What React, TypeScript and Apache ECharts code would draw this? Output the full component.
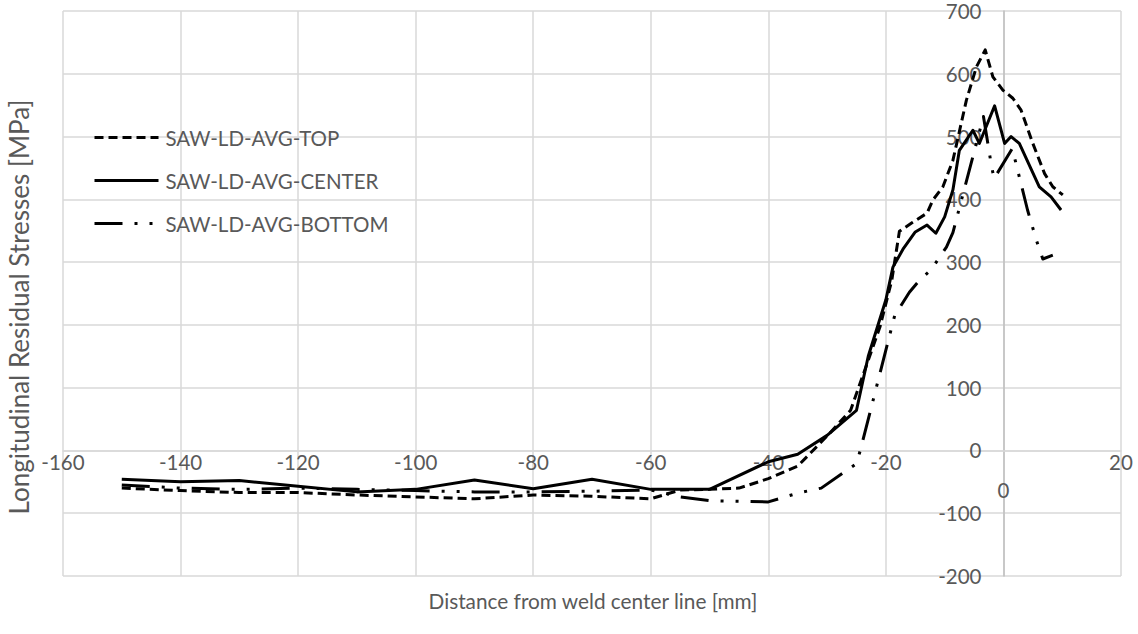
import React, { useEffect, useRef } from "react";
import * as echarts from "echarts";

// Longitudinal residual stress profiles across the weld (distance in mm, stress in MPa)
const seriesNames = ["SAW-LD-AVG-TOP", "SAW-LD-AVG-CENTER", "SAW-LD-AVG-BOTTOM"];

const topProfile: [number, number][] = [
  [-150, -60], [-140, -64], [-130, -67], [-120, -67], [-110, -71], [-100, -74],
  [-90, -77], [-80, -71], [-70, -73], [-60, -77], [-55, -63], [-50, -62],
  [-45, -60], [-40, -45], [-35, -25], [-30, 23], [-26, 64], [-21, 197],
  [-19, 271], [-17.7, 349], [-15.5, 363], [-13, 378], [-12, 399], [-10.3, 420],
  [-8.6, 462], [-6.3, 558], [-4.6, 611], [-3.1, 638], [-1.8, 595], [-0.1, 574],
  [1.6, 561], [3, 542], [5, 489], [7, 441], [8.4, 420], [10.1, 407],
];

const centerProfile: [number, number][] = [
  [-150, -46], [-140, -50], [-130, -48], [-120, -57], [-110, -66], [-100, -62],
  [-90, -47], [-80, -61], [-70, -46], [-60, -62], [-50, -62], [-40, -18],
  [-35, -6], [-30, 24], [-25, 64], [-23, 150], [-20, 240], [-18.8, 292],
  [-17, 322], [-15, 348], [-13, 359], [-11.5, 346], [-10, 372], [-8.6, 415],
  [-7.5, 478], [-5.2, 510], [-4.1, 489], [-1.5, 549], [0.2, 489], [1.3, 500],
  [2.7, 489], [6.1, 420], [8.1, 404], [9.8, 383],
];

const bottomProfile: [number, number][] = [
  [-150, -55], [-140, -60], [-130, -62], [-120, -60], [-110, -62], [-100, -64],
  [-90, -66], [-80, -66], [-70, -65], [-60, -63], [-55, -74], [-50, -80],
  [-45, -81], [-40, -82], [-35, -68], [-31, -60], [-25, -21], [-24.3, 2],
  [-18.5, 215], [-16, 252], [-14.3, 271], [-12.3, 288], [-9.7, 324], [-8.6, 347],
  [-3.4, 532], [-2.1, 457], [-1.6, 433], [1.5, 481], [4.1, 383], [5.6, 335],
  [6.7, 305], [8.4, 311],
];

const xRange = { min: -160, max: 20, step: 20 };
const yRange = { min: -200, max: 700, step: 100 };

const xTitle = "Distance from weld center line [mm]";
const yTitle = "Longitudinal Residual Stresses [MPa]";

const FONT = "Lato, 'Open Sans', sans-serif";
const TEXT = "#595959";
const GRID = "#d9d9d9";

// Plot box inside the 1138x634 canvas
const W = 1138;
const H = 634;
const box = { left: 63, right: 17, top: 11, bottom: 58 };

export default function App() {
  const ref = useRef<HTMLDivElement>(null);

  useEffect(() => {
    if (!ref.current) return;
    const chart = echarts.init(ref.current, undefined, { renderer: "svg" });

    // Axes cross at the origin: shift each axis from its edge to the other axis' zero
    const plotW = W - box.left - box.right;
    const plotH = H - box.top - box.bottom;
    const yAxisShift = ((0 - xRange.min) / (xRange.max - xRange.min)) * plotW;
    const xAxisShift = ((0 - yRange.min) / (yRange.max - yRange.min)) * plotH;

    const lineSeries = (name: string, data: [number, number][], type: any) => ({
      name,
      type: "line",
      data,
      symbol: "none",
      showSymbol: false,
      lineStyle: { color: "#000", width: 3, type, cap: "butt", join: "round" },
      itemStyle: { color: "#000" },
      z: 3,
    });

    chart.setOption({
      animation: false,
      backgroundColor: "#ffffff",
      textStyle: { fontFamily: FONT },
      grid: { ...box, containLabel: false },
      xAxis: {
        type: "value",
        min: xRange.min,
        max: xRange.max,
        interval: xRange.step,
        position: "bottom",
        offset: -xAxisShift,
        axisLine: { show: true, onZero: false, lineStyle: { color: GRID, width: 1.5 } },
        axisTick: { show: false },
        splitLine: { show: true, lineStyle: { color: GRID, width: 1.5 } },
        axisLabel: {
          color: TEXT,
          fontFamily: FONT,
          fontSize: 20.5,
          margin: 1,
          showMinLabel: true,
          showMaxLabel: true,
          hideOverlap: false,
          formatter: (v: number) => (v === 0 ? "{z|0}" : String(v)),
          rich: {
            z: { color: TEXT, fontFamily: FONT, fontSize: 20.5, padding: [28, 0, 0, 0] },
          },
        },
      },
      yAxis: {
        type: "value",
        min: yRange.min,
        max: yRange.max,
        interval: yRange.step,
        position: "left",
        offset: -yAxisShift,
        axisLine: { show: true, onZero: false, lineStyle: { color: "#bfbfbf", width: 1.5 } },
        axisTick: { show: false },
        splitLine: { show: true, lineStyle: { color: GRID, width: 1.5 } },
        axisLabel: { color: TEXT, fontFamily: FONT, fontSize: 20.5, margin: 22, hideOverlap: false },
      },
      legend: {
        data: seriesNames,
        orient: "vertical",
        left: 93,
        top: 127,
        padding: 0,
        itemWidth: 64,
        itemHeight: 20,
        itemGap: 22,
        itemStyle: { opacity: 0 },
        lineStyle: { width: 3 },
        textStyle: { color: TEXT, fontFamily: FONT, fontSize: 20.5, lineHeight: 20, padding: [0, 0, 0, 2] },
      },
      graphic: [
        {
          type: "text",
          x: 593,
          y: 600,
          style: { text: xTitle, fill: TEXT, fontFamily: FONT, fontSize: 20.8, align: "center", verticalAlign: "middle" },
        },
        {
          type: "text",
          x: 19,
          y: 307,
          rotation: Math.PI / 2,
          style: { text: yTitle, fill: TEXT, fontFamily: FONT, fontSize: 26, align: "center", verticalAlign: "middle" },
        },
      ],
      series: [
        lineSeries(seriesNames[0], topProfile, [9, 5]),
        lineSeries(seriesNames[1], centerProfile, "solid"),
        lineSeries(seriesNames[2], bottomProfile, [28, 12, 3, 12, 3, 12]),
      ],
    });

    return () => chart.dispose();
  }, []);

  return (
    <div
      ref={ref}
      style={{ position: "absolute", left: 0, top: 0, width: W, height: H, background: "#fff" }}
    />
  );
}
